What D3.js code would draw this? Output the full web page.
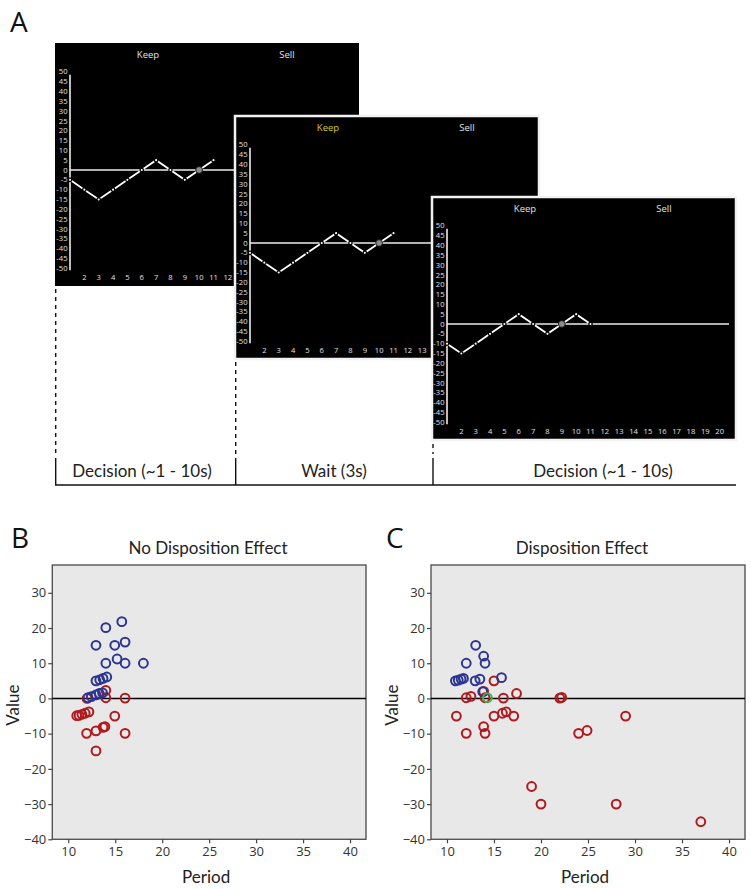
<!DOCTYPE html>
<html>
<head>
<meta charset="utf-8">
<script src="https://cdn.jsdelivr.net/npm/d3@7"></script>
<style>
html,body{margin:0;padding:0;background:#fff;}
svg{display:block;}
</style>
</head>
<body>
<svg id="fig" width="751" height="889"></svg>
<script>
// ---------- DATA ----------
// Panel A: stock price screens
const screenValueTicks = [50,45,40,35,30,25,20,15,10,5,0,-5,-10,-15,-20,-25,-30,-35,-40,-45,-50];
const screenPeriodTicks = [2,3,4,5,6,7,8,9,10,11,12,13,14,15,16,17,18,19,20];
const priceTrialA = [-5,-10,-15,-10,-5,0,5,0,-5,0,5];   // periods 1..11 (screens 1 & 2)
const currentPeriodA = 10;
const priceTrialB = [-10,-15,-10,-5,0,5,0,-5,0,5,0];    // periods 1..11 (screen 3)
const currentPeriodB = 9;
const screenButtons = ["Keep","Sell"];
const timelineLabels = ["Decision (~1 - 10s)","Wait (3s)","Decision (~1 - 10s)"];

// Panel B: No disposition effect  [period, value]
const noDispGains = [[15.7,21.8],[14.0,20.1],[12.95,15.1],[14.95,15.1],[16.05,16.0],[14.0,10.0],[15.2,11.2],[16.05,10.0],[18.0,10.0],[12.95,5.0],[13.35,5.3],[13.7,5.7],[14.1,6.1],[12.1,0.2],[12.45,0.5],[12.95,1.0],[13.3,1.4],[13.65,1.6]];
const noDispLosses = [[12.0,0.0],[14.0,2.3],[14.0,0.2],[16.05,0.1],[10.9,-4.9],[11.15,-4.8],[11.45,-4.5],[11.8,-4.2],[12.2,-3.8],[14.95,-5.0],[11.95,-9.9],[12.95,-9.2],[13.7,-8.2],[13.9,-8.0],[16.05,-9.9],[12.95,-14.9]];
// Panel C: Disposition effect
const dispGains = [[13.05,15.1],[13.9,12.0],[14.05,10.0],[12.05,10.0],[10.9,5.0],[11.2,5.2],[11.5,5.5],[11.75,5.7],[13.0,5.0],[13.5,5.5],[15.8,5.9],[13.8,1.9]];
const dispLosses = [[15.0,5.0],[17.4,1.4],[13.9,2.0],[12.05,0.2],[12.55,0.6],[14.05,0.2],[16.0,0.1],[22.0,0.1],[22.2,0.3],[11.0,-5.0],[15.0,-5.0],[15.9,-4.2],[16.3,-3.8],[17.1,-5.0],[12.05,-9.9],[13.9,-8.0],[14.05,-9.9],[24.0,-9.9],[24.9,-9.1],[29.0,-5.0],[19.0,-25.0],[20.0,-30.0],[28.0,-30.0],[37.0,-35.0]];
const dispNeutral = [[14.3,0.2]];
const scatterXTicks = [10,15,20,25,30,35,40];
const scatterYTicks = [-40,-30,-20,-10,0,10,20,30];

// ---------- DRAW ----------
const svg = d3.select("#fig");
const FONT = "Lato, 'Open Sans', sans-serif";
const NUMFONT = "'Open Sans', sans-serif";

// Panel letters
[["A",10,32],["B",11,548],["C",386,548]].forEach(([t,x,y])=>{
  svg.append("text").attr("x",x).attr("y",y).text(t)
    .attr("font-family",NUMFONT).attr("font-size",28).attr("fill","#111");
});

// Timeline
const tl = svg.append("g");
const sepX = [55.7, 235.7, 433];
const sepDashStart = [289, 362, 444];
sepX.forEach((x,i)=>{
  tl.append("line").attr("x1",x).attr("x2",x).attr("y1",sepDashStart[i]).attr("y2",454)
    .attr("stroke","#111").attr("stroke-width",1.4).attr("stroke-dasharray","4,4");
  tl.append("line").attr("x1",x).attr("x2",x).attr("y1",458).attr("y2",485)
    .attr("stroke","#111").attr("stroke-width",1.4);
});
tl.append("line").attr("x1",55).attr("x2",736).attr("y1",485).attr("y2",485)
  .attr("stroke","#111").attr("stroke-width",1.5);
const tlCenters = [142, 334, 603];
timelineLabels.forEach((t,i)=>{
  tl.append("text").attr("x",tlCenters[i]).attr("y",477).attr("text-anchor","middle")
    .attr("font-family",FONT).attr("font-size",17).attr("fill","#222").text(t);
});

// Screens
const SW = 304, SH = 243, STEP = 14.35;
function drawScreen(sx, sy, prices, current, keepColor, border, visibleMaxX){
  const g = svg.append("g");
  g.append("rect").attr("x",sx).attr("y",sy).attr("width",SW).attr("height",SH)
    .attr("fill","#000")
    .attr("stroke", border ? "#f2f2f2" : "none").attr("stroke-width",2.5);
  const x = d3.scaleLinear().domain([1,20]).range([sx+15, sx+15+19*STEP]);
  const y = d3.scaleLinear().domain([50,-50]).range([sy+28.7, sy+225.3]);
  const txt = "#e0e0e0";
  g.append("text").attr("x",sx+93).attr("y",sy+15).attr("text-anchor","middle")
    .attr("font-family",NUMFONT).attr("font-size",9.5).attr("fill",keepColor).text(screenButtons[0]);
  g.append("text").attr("x",sx+232).attr("y",sy+15).attr("text-anchor","middle")
    .attr("font-family",NUMFONT).attr("font-size",9.5).attr("fill",txt).text(screenButtons[1]);
  screenValueTicks.forEach(v=>{
    g.append("text").attr("x",sx+12.5).attr("y",y(v)).attr("dy","0.35em")
      .attr("text-anchor","end").attr("font-family",NUMFONT).attr("font-size",7.6)
      .attr("fill",txt).text(v);
  });
  // period labels (those hidden behind the next screen are not drawn)
  screenPeriodTicks.filter(p=>x(p) + 4.5 < visibleMaxX).forEach(p=>{
    g.append("text").attr("x",x(p)).attr("y",sy+234.5).attr("dy","0.35em")
      .attr("text-anchor","middle").attr("font-family",NUMFONT).attr("font-size",7.6)
      .attr("fill",txt).text(p);
  });
  g.append("line").attr("x1",sx+15).attr("x2",sx+15).attr("y1",y(48.5)).attr("y2",y(-51))
    .attr("stroke","#eee").attr("stroke-width",1.6);
  g.append("line").attr("x1",sx+15).attr("x2",sx+SW-7).attr("y1",y(0)).attr("y2",y(0))
    .attr("stroke","#eee").attr("stroke-width",1.6);
  const pts = prices.map((v,i)=>[i+1,v]);
  g.append("path").datum(pts)
    .attr("d", d3.line().x(d=>x(d[0])).y(d=>y(d[1])))
    .attr("fill","none").attr("stroke","#fff").attr("stroke-width",1.8);
  pts.forEach(d=>{
    if(d[0]===current){
      g.append("circle").attr("cx",x(d[0])).attr("cy",y(d[1])).attr("r",3.4)
        .attr("fill","#8c8c8c").attr("stroke","#000").attr("stroke-width",0.8);
    } else {
      g.append("circle").attr("cx",x(d[0])).attr("cy",y(d[1])).attr("r",1.7)
        .attr("fill","#fff").attr("stroke","#000").attr("stroke-width",1.3);
    }
  });
}
drawScreen(55, 43, priceTrialA, currentPeriodA, "#e0e0e0", false, 233);
drawScreen(235, 116, priceTrialA, currentPeriodA, "#d8cc1c", true, 430);
drawScreen(432, 197, priceTrialB, currentPeriodB, "#e0e0e0", true, 751);

// Scatter panels
function drawScatter(left, right, title, titleX, series){
  const top = 565, bottom = 839.3;
  const g = svg.append("g");
  const x = d3.scaleLinear().domain([8.3,41.7]).range([left,right]);
  const y = d3.scaleLinear().domain([-40,37.9]).range([bottom,top]);
  g.append("rect").attr("x",left).attr("y",top).attr("width",right-left).attr("height",bottom-top)
    .attr("fill","#e8e8e8").attr("stroke","#555").attr("stroke-width",1.4);
  const ya = g.append("g").attr("transform",`translate(${left},0)`)
    .call(d3.axisLeft(y).tickValues(scatterYTicks).tickSize(4).tickPadding(2));
  const xa = g.append("g").attr("transform",`translate(0,${bottom})`)
    .call(d3.axisBottom(x).tickValues(scatterXTicks).tickSize(4).tickPadding(3));
  [ya,xa].forEach(a=>{
    a.select(".domain").remove();
    a.selectAll("line").attr("stroke","#444").attr("stroke-width",1.2);
    a.selectAll("text").attr("font-family",NUMFONT).attr("font-size",13).attr("fill","#333");
  });
  g.append("line").attr("x1",left).attr("x2",right).attr("y1",y(0)).attr("y2",y(0))
    .attr("stroke","#000").attr("stroke-width",1.6);
  series.forEach(s=>{
    g.selectAll(null).data(s.data).enter().append("circle")
      .attr("cx",d=>x(d[0])).attr("cy",d=>y(d[1])).attr("r",4.4)
      .attr("fill","none").attr("stroke",s.color).attr("stroke-width",2);
  });
  g.append("text").attr("x",titleX).attr("y",554).attr("text-anchor","middle")
    .attr("font-family",FONT).attr("font-size",17).attr("fill","#222").text(title);
  g.append("text").attr("x",(left+right)/2 - 3).attr("y",883).attr("text-anchor","middle")
    .attr("font-family",FONT).attr("font-size",17).attr("fill","#222").text("Period");
  g.append("text").attr("transform",`translate(${left-33},${(top+bottom)/2 + 3}) rotate(-90)`)
    .attr("text-anchor","middle")
    .attr("font-family",FONT).attr("font-size",17).attr("fill","#222").text("Value");
}
const RED = "#b0191e", BLUE = "#2c3590", GREEN = "#3cb54a";
drawScatter(52.3, 366, "No Disposition Effect", 208,
  [{data:noDispLosses,color:RED},{data:noDispGains,color:BLUE}]);
drawScatter(431, 745, "Disposition Effect", 582,
  [{data:dispLosses,color:RED},{data:dispGains,color:BLUE},{data:dispNeutral,color:GREEN}]);
</script>
</body>
</html>
